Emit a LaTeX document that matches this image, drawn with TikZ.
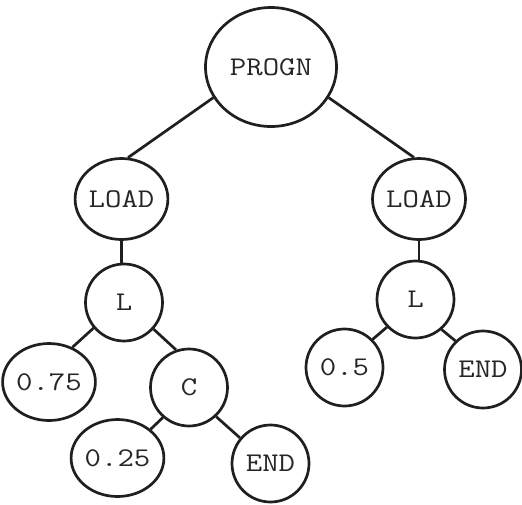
\documentclass[tikz,border=0pt]{standalone}
\usepackage{fontspec}
\setmonofont[FakeStretch=1.18]{Latin Modern Mono}
\usetikzlibrary{shapes.geometric}
\begin{document}
\begin{tikzpicture}[x=1pt,y=-1pt,
  nd/.style={draw=black!88, line width=2.7pt, ellipse, inner sep=0pt,
    font=\ttfamily\fontsize{27}{27}\selectfont, text=black!85},
  cn/.style={nd, minimum width=77pt, minimum height=77pt},
  edge/.style={line width=2.7pt, draw=black!88}]
\useasboundingbox (0,0) rectangle (522,504);
\node[nd, minimum width=131pt, minimum height=119pt] (progn) at (271,67) {PROGN};
\node[nd, minimum width=92pt, minimum height=81pt] (loadl) at (121.5,199) {LOAD};
\node[nd, minimum width=93pt, minimum height=81pt] (loadr) at (419,199) {LOAD};
\node[cn] (ll) at (124,302.5) {L};
\node[cn] (lr) at (415.5,299.5) {L};
\node[cn] (a75) at (49,382) {0.75};
\node[cn] (c) at (189,387.5) {C};
\node[cn] (a25) at (117.5,458) {0.25};
\node[cn] (endl) at (270.5,463.5) {END};
\node[cn] (a5) at (344.5,367.5) {0.5};
\node[cn] (endr) at (483,369.5) {END};
\draw[edge] (progn.208) -- (loadl.81);
\draw[edge] (progn.332) -- (loadr.97);
\draw[edge] (loadl.south) -- ([yshift=-1pt]loadl.south |- ll.north);
\draw[edge] (loadr.south) -- ([yshift=-1pt]loadr.south |- lr.north);
\draw[edge] (ll.220) -- (a75.56);
\draw[edge] (ll.318) -- (c.109);
\draw[edge] (c.229) -- (a25.41);
\draw[edge] (c.313) -- (endl.140);
\draw[edge] (lr.224) -- (a5.45);
\draw[edge] (lr.311) -- (endr.134);
\end{tikzpicture}
\end{document}
